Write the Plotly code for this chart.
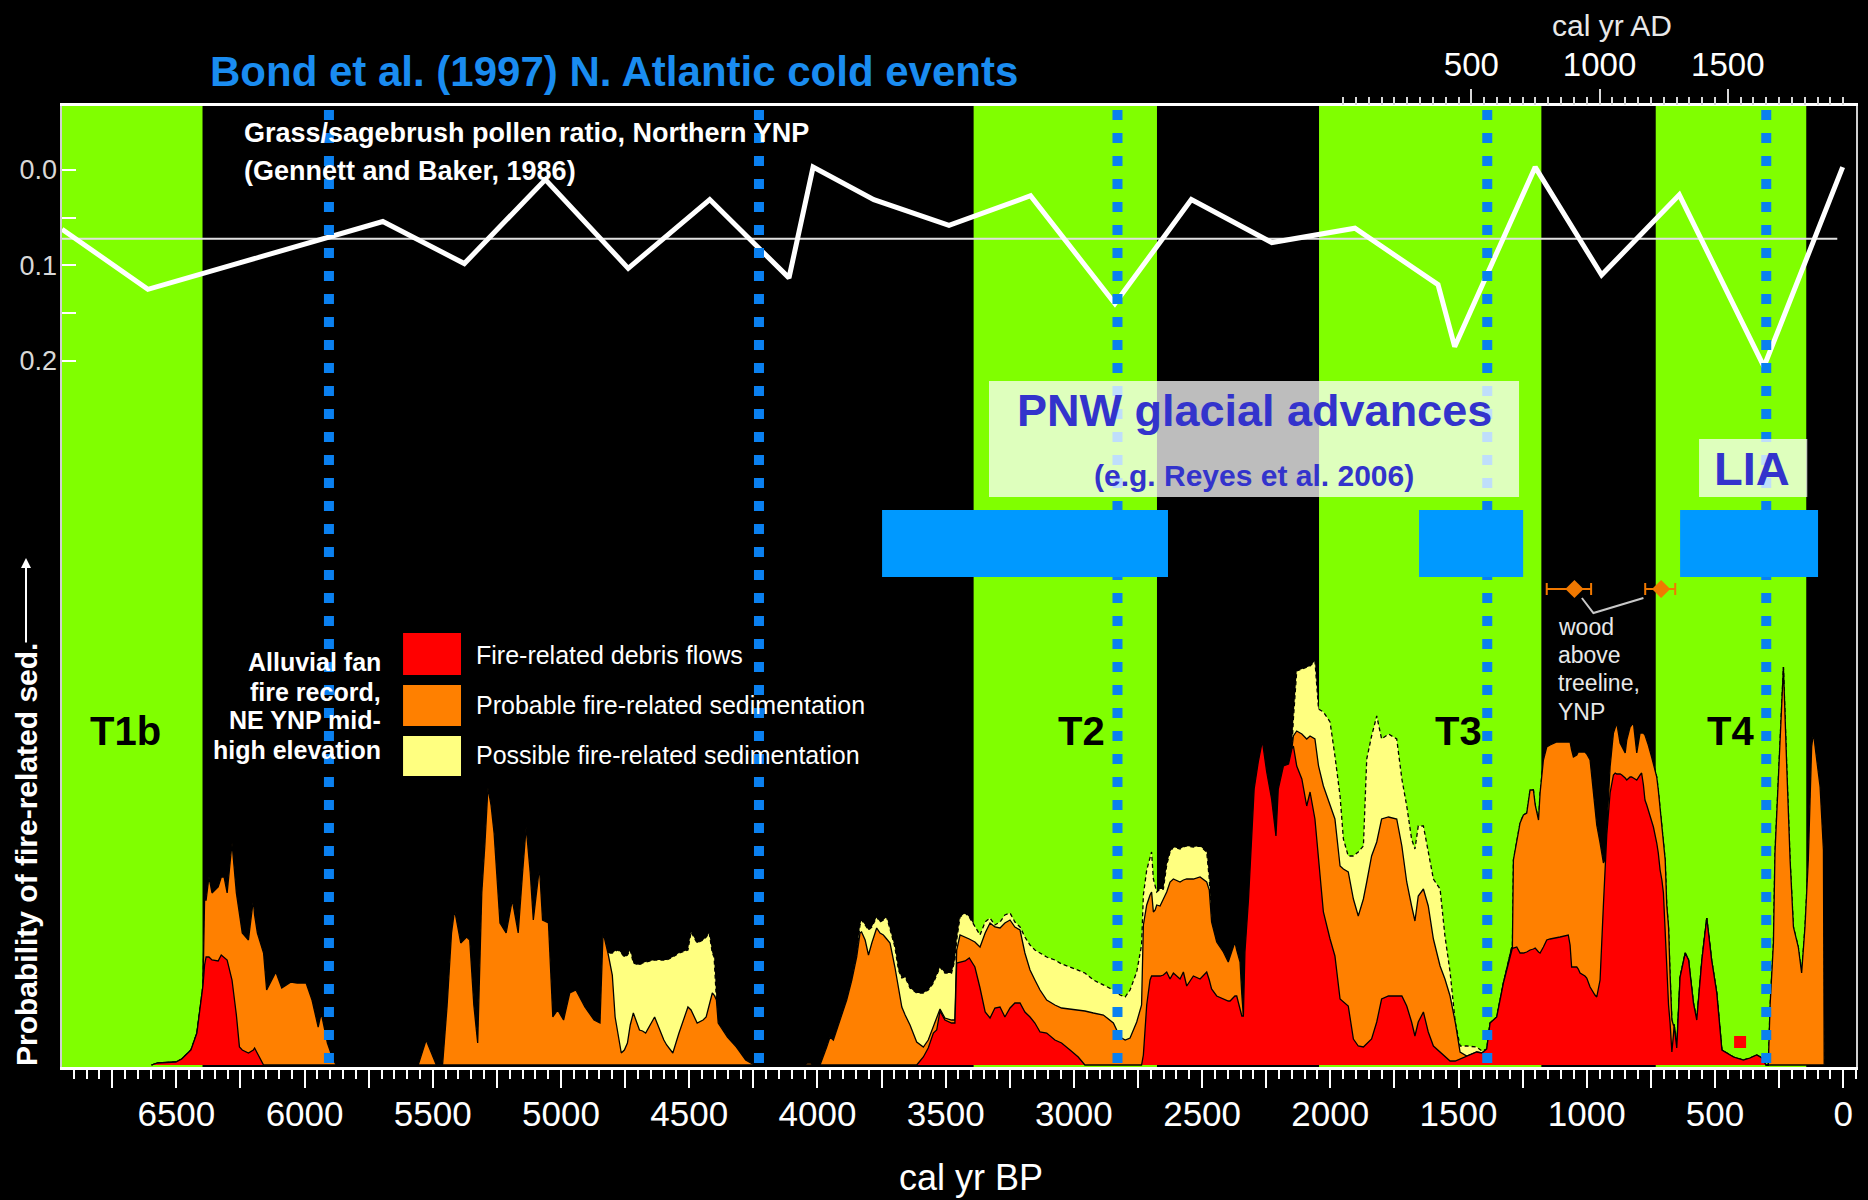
import plotly.graph_objects as go

# ---------------------------------------------------------------- style
FONT = "Liberation Sans, Arial, Helvetica, sans-serif"
WHITE = "#ffffff"
GREEN = "#80ff00"
RED = "#ff0000"
ORANGE = "#ff8000"
YELLOW = "#ffff80"
BOND_BLUE = "#0a80f0"
TITLE_BLUE = "#1a8cf0"
GLACIER_BLUE = "#0099ff"
TEXT_BLUE = "#3333cc"
WOOD_ORANGE = "#f07800"

W, H = 1868, 1200
ML, MR, MT, MB = 62, 12, 106, 133

X_RANGE = [6946, -50]            # cal yr BP (reversed)
X_AD_RANGE = [1950 - 6946, 1950 + 50]
Y_FIRE_RANGE = [-2, 959]         # relative probability units
Y_POLLEN_RANGE = [0.9393, -0.067]

# ---------------------------------------------------------------- data
# Grass/sagebrush pollen ratio (Gennett and Baker 1986)
pollen_bp = [6946, 6611, 5695, 5377, 5061, 4738, 4420, 4111, 4017, 3780, 3487, 3169,
             2840, 2542, 2228, 1904, 1580, 1515, 1201, 942, 639, 309, 2]
pollen_ratio = [0.062, 0.125, 0.054, 0.098, 0.010, 0.103, 0.031, 0.113, -0.003, 0.031,
                0.058, 0.027, 0.140, 0.031, 0.076, 0.061, 0.120, 0.185, -0.003, 0.110,
                0.026, 0.206, -0.003]
pollen_mean = 0.072
pollen_mean_span = [6946, 23]

# Bond et al. (1997) cold events, cal yr BP
bond_events = [5905, 4228, 2830, 1388, 300]

# Terrace / cool periods (green bands)
period_names = ["T1b", "T2", "T3", "T4"]
period_start = [6946, 3391, 2044, 731]
period_end = [6398, 2676, 1177, 144]
period_label_bp = [6697, 2972, 1502, 441]

# PNW glacial advances (blue bars)
glacial_start = [3748, 1654, 636]
glacial_end = [2633, 1248, 98]

# Wood above treeline dates
wood_bp = [1048, 710]
wood_err_older = [108, 62]
wood_err_younger = [65, 55]
wood_level = [476, 476]

# single debris-flow date marker
flow_bp = [402]
flow_level = [23]

# Alluvial-fan fire record: cumulative tops of the stacked layers
# segment A
bp_a = [6597, 6573, 6502, 6479, 6443, 6420, 6396, 6390, 6384, 6373, 6361, 6337, 6325, 6314,
        6302, 6283, 6266, 6254, 6243, 6219, 6200, 6195, 6184, 6160, 6148, 6112, 6089, 6053,
        6029, 5994, 5971, 5947, 5935, 5911, 5888, 5876]
red_a = [0, 2, 3, 6, 15, 32, 80, 100, 108, 108, 105, 104, 110, 108, 105, 85, 50, 18, 15, 12,
         15, 17, 12, 0, 0, 0, 0, 0, 0, 0, 0, 0, 0, 0, 0, 0]
orange_a = [0, 2, 3, 6, 15, 32, 80, 165, 165, 188, 172, 178, 188, 188, 172, 222, 172, 150, 132,
            125, 165, 150, 132, 112, 75, 93, 77, 83, 82, 82, 65, 38, 52, 22, 5, 0]
yellow_a = [0, 2, 3, 6, 15, 32, 80, 165, 165, 188, 172, 178, 188, 188, 172, 222, 172, 150, 132,
            125, 165, 150, 132, 112, 75, 93, 77, 83, 82, 82, 65, 38, 52, 22, 5, 0]
# segment B1
bp_b1 = [5557, 5526, 5486]
red_b1 = [0, 0, 0]
orange_b1 = [0, 25, 0]
yellow_b1 = [0, 25, 0]
# segment B2
bp_b2 = [5462, 5444, 5427, 5415, 5391, 5368, 5356, 5340, 5325, 5309, 5297, 5285, 5273, 5261,
         5238, 5214, 5190, 5167, 5150, 5136, 5120, 5108, 5084, 5072, 5049, 5032, 5013, 4990,
         4966, 4942, 4907, 4871, 4848, 4836, 4817, 4800, 4789, 4777, 4765, 4753, 4741, 4730,
         4718, 4694, 4682, 4670, 4635, 4599, 4588, 4564, 4540, 4505, 4493, 4469, 4446, 4434,
         4422, 4410, 4403, 4394, 4387, 4351, 4316, 4280, 4245]
red_b2 = [0] * 65
orange_b2 = [0, 60, 132, 155, 122, 128, 125, 60, 22, 172, 220, 277, 260, 232, 142, 132, 165,
             132, 192, 238, 192, 145, 198, 145, 142, 48, 55, 45, 72, 75, 58, 45, 42, 133, 112,
             90, 48, 30, 12, 15, 22, 40, 52, 35, 34, 32, 48, 25, 20, 12, 32, 58, 55, 42, 45,
             48, 60, 72, 70, 65, 42, 28, 18, 5, 0]
yellow_b2 = [0, 60, 132, 155, 122, 128, 125, 60, 22, 172, 220, 277, 260, 232, 142, 132, 165,
             132, 192, 238, 192, 145, 198, 145, 142, 48, 55, 45, 72, 75, 58, 45, 42, 133, 112,
             112, 114, 115, 112, 108, 110, 115, 102, 100, 102, 103, 105, 105, 105, 108, 112,
             115, 133, 122, 125, 128, 132, 112, 108, 65, 42, 28, 18, 5, 0]
# segment C1
bp_c1 = [4050, 4040, 4025, 4020]
red_c1 = [0, 0, 0, 0]
orange_c1 = [0, 2, 2, 0]
yellow_c1 = [0, 2, 2, 0]
# segment C2
bp_c2 = [3990, 3964, 3951, 3938, 3912, 3886, 3866, 3847, 3834, 3828,
         3814, 3801, 3788, 3769, 3756, 3743, 3730, 3717, 3698, 3684,
         3671, 3658, 3639, 3613, 3587, 3568, 3548, 3535, 3522, 3503,
         3477, 3464, 3457, 3444, 3424, 3408, 3386, 3366, 3346, 3327,
         3308, 3288, 3269, 3249, 3230, 3210, 3191, 3171, 3152, 3132,
         3106, 3074, 3048, 3015, 2983, 2957, 2924, 2885, 2846, 2820,
         2800, 2781, 2755, 2736, 2729, 2716, 2703, 2697, 2690, 2683,
         2677, 2664, 2651, 2638, 2625, 2612, 2586, 2573, 2560, 2534,
         2508, 2482, 2472, 2463, 2443, 2417, 2398, 2391, 2372, 2365,
         2352, 2345, 2339, 2333, 2319, 2306, 2297, 2281, 2265, 2248,
         2229, 2212, 2203, 2183, 2163, 2150, 2144, 2131, 2111, 2092,
         2079, 2060, 2046, 2027, 2001, 1982, 1962, 1949, 1930, 1910,
         1891, 1871, 1858, 1839, 1819, 1800, 1773, 1741, 1721, 1702,
         1683, 1670, 1657, 1637, 1618, 1598, 1572, 1553, 1533, 1513,
         1494, 1468, 1429, 1409, 1390, 1377, 1351, 1325, 1293, 1290,
         1286, 1273, 1260, 1247, 1234, 1221, 1208, 1201, 1188, 1182,
         1169, 1156, 1143, 1117, 1104, 1072, 1065, 1059, 1052, 1039,
         1033, 1026, 1007, 1000, 987, 981, 968, 961, 948, 935,
         928, 922, 909, 896, 889, 883, 870, 863, 850, 844,
         831, 825, 818, 805, 792, 786, 779, 773, 766, 760,
         747, 740, 727, 721, 714, 707, 701, 694, 688, 681,
         675, 668, 662, 659, 649, 636, 616, 603, 584, 571,
         551, 532, 513, 493, 473, 454, 428, 389, 363, 337,
         317, 301, 292, 285, 272, 266, 253, 240, 233, 220,
         207, 194, 175, 162, 149, 136, 123, 116, 103, 90,
         77, 74]
red_c2 = [0, 0, 0, 0, 0, 0, 0, 0, 0, 0,
          0, 0, 0, 0, 0, 0, 0, 0, 0, 0,
          0, 0, 0, 0, 8, 17, 32, 35, 54, 45,
          42, 42, 102, 103, 104, 107, 98, 77, 53, 47,
          57, 58, 48, 57, 62, 62, 53, 48, 42, 33,
          32, 25, 22, 15, 8, 0, 0, 0, 0, 0,
          0, 0, 0, 0, 10, 60, 85, 89, 89, 89,
          89, 89, 90, 93, 86, 92, 86, 93, 79, 89,
          86, 93, 85, 76, 69, 66, 64, 64, 69, 69,
          55, 49, 49, 113, 166, 233, 276, 303, 324, 293,
          266, 229, 276, 299, 301, 316, 319, 299, 286, 259,
          273, 246, 209, 153, 126, 109, 66, 63, 59, 26,
          19, 18, 21, 26, 43, 66, 69, 69, 69, 59,
          43, 29, 43, 53, 33, 19, 13, 8, 4, 4,
          6, 9, 13, 12, 16, 42, 48, 82, 117, 117,
          117, 118, 112, 112, 113, 115, 116, 117, 113, 112,
          118, 125, 126, 127, 128, 130, 120, 98, 98, 98,
          96, 92, 89, 87, 78, 75, 70, 68, 85, 160,
          205, 230, 272, 290, 292, 291, 291, 290, 287, 285,
          288, 288, 287, 285, 290, 292, 280, 265, 260, 255,
          245, 238, 222, 212, 195, 185, 172, 130, 88, 60,
          42, 13, 30, 40, 17, 88, 112, 105, 62, 45,
          105, 147, 105, 72, 15, 12, 8, 5, 7, 10,
          7, 0, 0, 0, 0, 0, 0, 0, 0, 0,
          0, 0, 0, 0, 0, 0, 0, 0, 0, 0,
          0, 0]
orange_c2 = [0, 18, 28, 25, 45, 65, 85, 108, 132, 133,
             125, 110, 122, 137, 132, 130, 126, 122, 98, 78,
             58, 50, 40, 23, 18, 25, 38, 48, 56, 47,
             45, 45, 115, 130, 128, 126, 123, 118, 132, 142,
             138, 137, 142, 145, 138, 135, 112, 95, 85, 75,
             65, 60, 57, 56, 55, 54, 52, 50, 42, 28,
             25, 27, 43, 60, 140, 160, 170, 173, 153, 155,
             160, 159, 166, 173, 183, 186, 183, 185, 186, 186,
             188, 183, 175, 143, 123, 113, 103, 108, 123, 115,
             103, 70, 49, 113, 166, 233, 276, 303, 324, 293,
             266, 229, 276, 299, 301, 316, 329, 334, 331, 326,
             329, 326, 299, 279, 259, 246, 199, 196, 193, 166,
             149, 166, 183, 209, 223, 246, 248, 246, 219, 183,
             159, 144, 169, 176, 159, 126, 99, 86, 69, 43,
             13, 9, 13, 12, 16, 42, 48, 82, 117, 117,
             205, 225, 242, 250, 252, 275, 275, 260, 245, 272,
             305, 318, 320, 323, 323, 323, 323, 315, 308, 310,
             313, 313, 313, 311, 305, 290, 255, 240, 222, 202,
             206, 240, 298, 332, 337, 342, 322, 318, 312, 325,
             338, 340, 342, 312, 332, 332, 332, 330, 325, 320,
             308, 300, 288, 275, 255, 238, 220, 205, 160, 138,
             90, 45, 40, 40, 17, 88, 112, 105, 62, 45,
             105, 147, 105, 72, 15, 12, 8, 5, 7, 10,
             7, 0, 0, 60, 122, 212, 288, 368, 398, 298,
             205, 138, 118, 92, 138, 205, 318, 332, 305, 278,
             215, 0]
yellow_c2 = [0, 18, 28, 25, 45, 65, 85, 110, 140, 145,
             140, 135, 138, 148, 143, 145, 148, 135, 118, 95,
             87, 88, 77, 72, 72, 75, 82, 90, 98, 92,
             92, 105, 125, 148, 152, 148, 138, 130, 143, 147,
             140, 143, 150, 152, 143, 138, 128, 120, 115, 112,
             108, 105, 101, 98, 95, 92, 85, 80, 75, 70,
             68, 75, 93, 120, 170, 195, 209, 213, 186, 178,
             173, 176, 176, 200, 213, 218, 216, 218, 219, 218,
             219, 213, 186, 143, 123, 113, 103, 108, 123, 115,
             103, 70, 49, 113, 166, 233, 276, 303, 324, 293,
             266, 229, 276, 299, 301, 316, 346, 394, 396, 398,
             399, 404, 356, 353, 343, 309, 269, 226, 209, 209,
             213, 219, 306, 329, 349, 326, 331, 326, 286, 259,
             226, 216, 239, 239, 213, 186, 176, 129, 93, 43,
             19, 19, 18, 14, 16, 42, 48, 82, 117, 117,
             205, 225, 242, 250, 252, 275, 275, 260, 245, 272,
             305, 318, 320, 323, 323, 323, 323, 315, 308, 310,
             313, 313, 313, 311, 305, 290, 255, 240, 222, 202,
             206, 240, 298, 332, 337, 342, 322, 318, 312, 325,
             338, 340, 342, 312, 332, 332, 332, 330, 325, 320,
             308, 300, 288, 275, 255, 238, 220, 205, 160, 138,
             90, 45, 40, 40, 17, 88, 112, 105, 62, 45,
             105, 147, 105, 72, 15, 12, 8, 5, 7, 10,
             7, 0, 0, 60, 122, 212, 288, 368, 398, 298,
             205, 138, 118, 92, 138, 205, 318, 332, 305, 278,
             215, 0]

fire_bp = bp_a + bp_b1 + bp_b2 + bp_c1 + bp_c2
red_top = red_a + red_b1 + red_b2 + red_c1 + red_c2
orange_top = orange_a + orange_b1 + orange_b2 + orange_c1 + orange_c2
yellow_top = yellow_a + yellow_b1 + yellow_b2 + yellow_c1 + yellow_c2

bottom_ticks = list(range(0, 7000, 250))
bottom_ticktext = [str(v) if v % 500 == 0 else "" for v in bottom_ticks]
ad_ticks = [0, 500, 1000, 1500]
ad_ticktext = ["", "500", "1000", "1500"]
ad_minor = list(range(0, 2000, 50))
pollen_ticks = [0.0, 0.05, 0.1, 0.15, 0.2]
pollen_ticktext = ["0.0", "", "0.1", "", "0.2"]


def px_x(p):
    return (p - ML) / (W - ML - MR)


def px_y(p):
    return (H - MB - p) / (H - MT - MB)


# ---------------------------------------------------------------- figure
fig = go.Figure()

for top, col, dash in [(yellow_top, YELLOW, "4px,3px"), (orange_top, ORANGE, "solid"),
                       (red_top, RED, "solid")]:
    fig.add_trace(go.Scatter(x=fire_bp, y=top, mode="lines", fill="tozeroy", fillcolor=col,
                             line=dict(color="black", width=1.3, dash=dash),
                             hoverinfo="skip", showlegend=False))

# wood dates
fig.add_trace(go.Scatter(x=wood_bp, y=wood_level, mode="markers",
                         marker=dict(symbol="diamond", size=14, color=WOOD_ORANGE),
                         error_x=dict(type="data", symmetric=False, array=wood_err_older,
                                      arrayminus=wood_err_younger, color=WOOD_ORANGE,
                                      thickness=2, width=6),
                         hoverinfo="skip", showlegend=False))
fig.add_trace(go.Scatter(x=flow_bp, y=flow_level, mode="markers",
                         marker=dict(symbol="square", size=12, color=RED),
                         hoverinfo="skip", showlegend=False))

# pollen
fig.add_trace(go.Scatter(x=pollen_mean_span, y=[pollen_mean, pollen_mean], yaxis="y2",
                         mode="lines", line=dict(color="#e0e0e0", width=2),
                         hoverinfo="skip", showlegend=False))
fig.add_trace(go.Scatter(x=pollen_bp, y=pollen_ratio, yaxis="y2", mode="lines",
                         line=dict(color=WHITE, width=5), hoverinfo="skip", showlegend=False))

# dummy trace for top AD axis
fig.add_trace(go.Scatter(x=[0], y=[None], xaxis="x2", mode="markers",
                         marker=dict(opacity=0), hoverinfo="skip", showlegend=False))

shapes = []
for s, e in zip(period_start, period_end):
    shapes.append(dict(type="rect", xref="x", yref="paper", x0=s, x1=e, y0=0, y1=1,
                       fillcolor=GREEN, line=dict(width=0), layer="below"))
for b in bond_events:
    shapes.append(dict(type="line", xref="x", yref="paper", x0=b, x1=b,
                       y0=px_y(110), y1=px_y(1066),
                       line=dict(color=BOND_BLUE, width=10, dash="10px,13px"), layer="above"))
for s, e in zip(glacial_start, glacial_end):
    shapes.append(dict(type="rect", xref="x", yref="y", x0=s, x1=e, y0=488, y1=555,
                       fillcolor=GLACIER_BLUE, line=dict(width=0), layer="above"))
shapes.append(dict(type="rect", xref="x", yref="y", x0=3331, x1=1264, y0=568, y1=684,
                   fillcolor="rgba(255,255,255,0.74)", line=dict(width=0), layer="above"))
shapes.append(dict(type="rect", xref="x", yref="y", x0=562, x1=140, y0=568, y1=626,
                   fillcolor="rgba(255,255,255,0.74)", line=dict(width=0), layer="above"))
# legend swatches
for (y0, y1), col in zip([(390, 432), (339, 380), (289, 329)], [RED, ORANGE, YELLOW]):
    shapes.append(dict(type="rect", xref="x", yref="y", x0=5616, x1=5390, y0=y0, y1=y1,
                       fillcolor=col, line=dict(width=0), layer="above"))
# connector from wood label to dates
shapes.append(dict(type="path", xref="x", yref="y",
                   path="M 1019,467 L 974,452 L 779,467",
                   line=dict(color="#c8c8c8", width=2), layer="above"))

ann = []


def add_text(text, x, y, size, color=WHITE, xref="x", yref="y", xanchor="center",
             yanchor="middle", angle=0):
    ann.append(dict(text=text, x=x, y=y, xref=xref, yref=yref, showarrow=False,
                    xanchor=xanchor, yanchor=yanchor, textangle=angle,
                    font=dict(family=FONT, size=size, color=color)))


add_text("<b>Bond et al. (1997) N. Atlantic cold events</b>", px_x(208), px_y(71), 42,
         TITLE_BLUE, "paper", "paper", "left")
add_text("cal yr AD", px_x(1612), px_y(26), 30, "#e8e8e8", "paper", "paper")
add_text("cal yr BP", px_x(971), px_y(1177), 36, WHITE, "paper", "paper")
add_text("<b>Probability of fire-related sed.</b>", px_x(26), px_y(855), 30, WHITE,
         "paper", "paper", angle=-90)
ann.append(dict(x=px_x(26), y=px_y(558), xref="paper", yref="paper", text="",
                showarrow=True, ax=0, ay=86, arrowhead=2, arrowsize=1, arrowwidth=2,
                arrowcolor=WHITE))
add_text("<b>Grass/sagebrush pollen ratio, Northern YNP</b>", 6244, -0.0387, 27, WHITE,
         "x", "y2", "left")
add_text("<b>(Gennett and Baker, 1986)</b>", 6244, 0.001, 27, WHITE, "x", "y2", "left")

for line, yv in zip(["Alluvial fan", "fire record,", "NE YNP mid-", "high elevation"],
                    [403, 373, 345, 315]):
    add_text("<b>" + line + "</b>", 5694, yv, 25, WHITE, xanchor="right")
for line, yv in zip(["Fire-related debris flows", "Probable fire-related sedimentation",
                     "Possible fire-related sedimentation"], [410, 360, 310]):
    add_text(line, 5339, yv, 25, WHITE, xanchor="left")
for name, xb in zip(period_names, period_label_bp):
    add_text("<b>" + name + "</b>", xb, 334, 40, "black")
for line, yv in zip(["wood", "above", "treeline,", "YNP"], [438, 410, 382, 353]):
    add_text(line, 1119, yv, 23, "#e8e8e8", xanchor="left")
add_text("<b>PNW glacial advances</b>", 2297, 655, 45, TEXT_BLUE)
add_text("<b>(e.g. Reyes et al. 2006)</b>", 2297, 590, 30, TEXT_BLUE)
add_text("<b>LIA</b>", 355, 597, 47, TEXT_BLUE)

fig.update_layout(
    width=W, height=H,
    paper_bgcolor="black", plot_bgcolor="black",
    margin=dict(l=ML, r=MR, t=MT, b=MB, autoexpand=False),
    showlegend=False,
    font=dict(family=FONT, color=WHITE),
    xaxis=dict(range=X_RANGE, showgrid=False, zeroline=False,
               showline=True, linecolor=WHITE, linewidth=3, mirror=True,
               tickmode="array", tickvals=bottom_ticks, ticktext=bottom_ticktext,
               ticks="outside", ticklen=18, tickwidth=2, tickcolor=WHITE,
               ticklabelstandoff=-4,
               tickfont=dict(family=FONT, size=35, color=WHITE),
               minor=dict(dtick=50, tick0=0, ticks="outside", ticklen=9, tickwidth=1.5,
                          tickcolor=WHITE)),
    xaxis2=dict(range=X_AD_RANGE, overlaying="x", side="top", anchor="y",
                showgrid=False, zeroline=False, showline=False,
                tickmode="array", tickvals=ad_ticks, ticktext=ad_ticktext,
                ticks="outside", ticklen=16, tickwidth=2, tickcolor="#d8d8d8",
                tickfont=dict(family=FONT, size=33, color=WHITE),
                minor=dict(tickmode="array", tickvals=ad_minor, ticks="outside",
                           ticklen=8, tickwidth=1.5, tickcolor="#d8d8d8")),
    yaxis=dict(range=Y_FIRE_RANGE, showgrid=False, zeroline=False, showticklabels=False,
               ticks="", showline=True, linecolor="#d0d0d0", linewidth=2, mirror=True),
    yaxis2=dict(range=Y_POLLEN_RANGE, overlaying="y", side="left", anchor="x",
                showgrid=False, zeroline=False, showline=False,
                tickmode="array", tickvals=pollen_ticks, ticktext=pollen_ticktext,
                ticks="inside", ticklen=14, tickwidth=2, tickcolor=WHITE,
                ticklabelstandoff=4,
                tickfont=dict(family=FONT, size=27, color="#d8d8d8")),
    shapes=shapes,
    annotations=ann,
)

fig.write_html("out.html",
               config={"displayModeBar": False},
               post_script="document.body.style.margin='0px';"
                           "document.body.style.background='black';"
                           "document.body.style.overflow='hidden';")
